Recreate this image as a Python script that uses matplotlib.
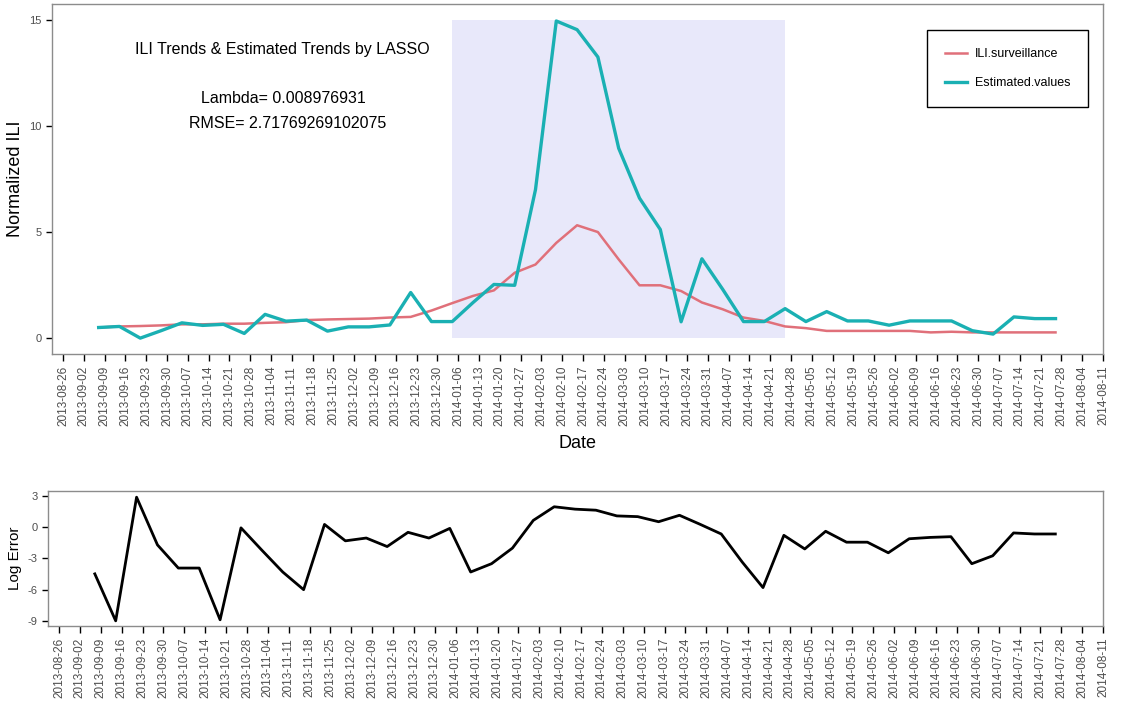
import numpy as np
import pandas as pd
import matplotlib
matplotlib.use('Agg')
import matplotlib.pyplot as plt
import matplotlib.dates as mdates

plt.rcParams['font.family'] = ['Liberation Sans', 'DejaVu Sans']
plt.rcParams['axes.unicode_minus'] = False

# weekly data, saturdays
dates = pd.date_range('2013-09-07', periods=47, freq='7D')
ili_surveillance = [0.50, 0.55, 0.57, 0.60, 0.65, 0.65, 0.68, 0.68, 0.72, 0.75,
                    0.85, 0.88, 0.90, 0.92, 0.97, 1.00, 1.30, 1.65, 1.99, 2.25,
                    3.08, 3.47, 4.49, 5.32, 5.00, 3.71, 2.49, 2.49, 2.22, 1.68,
                    1.36, 0.97, 0.81, 0.55, 0.47, 0.34, 0.34, 0.34, 0.34, 0.34,
                    0.27, 0.30, 0.27, 0.27, 0.27, 0.27, 0.27]
estimated_values = [0.50, 0.55, 0.00, 0.35, 0.72, 0.60, 0.65, 0.22, 1.12, 0.80,
                    0.85, 0.33, 0.53, 0.53, 0.62, 2.15, 0.78, 0.78, 1.68, 2.53,
                    2.49, 7.00, 14.95, 14.54, 13.25, 8.95, 6.60, 5.12, 0.77, 3.74,
                    2.30, 0.78, 0.78, 1.39, 0.78, 1.25, 0.81, 0.81, 0.61, 0.81,
                    0.81, 0.81, 0.35, 0.19, 1.00, 0.92, 0.92]
log_error = [-4.48, -9.0, 2.9, -1.69, -3.92, -3.92, -8.9, -0.05, -2.2, -4.3,
             -6.0, 0.28, -1.3, -1.03, -1.85, -0.48, -1.03, -0.1, -4.3, -3.5,
             -2.0, 0.67, 1.98, 1.75, 1.65, 1.1, 1.03, 0.54, 1.16, 0.28,
             -0.64, -3.33, -5.8, -0.77, -2.08, -0.38, -1.43, -1.43, -2.45, -1.1,
             -0.97, -0.9, -3.5, -2.74, -0.54, -0.64, -0.64]
shade_start, shade_end = 17, 33

tick_dates = pd.date_range('2013-08-26', '2014-08-11', freq='7D')
x_left = pd.Timestamp('2013-08-26') - pd.Timedelta(days=3.7)
x_right = pd.Timestamp('2014-08-11')

red = '#E0707A'
teal = '#1AB0B3'
frame_col = '#8c8c8c'
tick_txt = '#4d4d4d'

fig = plt.figure(figsize=(11.21, 7.03), dpi=100)
ax1 = fig.add_axes([0.0464, 0.4964, 0.9376, 0.4979])
ax2 = fig.add_axes([0.0428, 0.1095, 0.9412, 0.1921])


def style(ax):
    for s in ax.spines.values():
        s.set_color(frame_col)
        s.set_linewidth(1.0)
    ax.set_xlim(x_left, x_right)
    ax.set_xticks(tick_dates)
    ax.xaxis.set_major_formatter(mdates.DateFormatter('%Y-%m-%d'))
    ax.tick_params(axis='x', rotation=90, labelsize=8.5, labelcolor=tick_txt,
                   length=5, width=1, color='black')
    ax.tick_params(axis='y', labelsize=8, labelcolor=tick_txt,
                   length=4, width=1, color='black')
    ax.grid(False)


# top panel
ax1.fill_between([dates[shade_start], dates[shade_end]], 0, 15,
                 color='#E8E8FA', lw=0, zorder=0)
ax1.plot(dates, ili_surveillance, color=red, lw=1.8, label='ILI.surveillance')
ax1.plot(dates, estimated_values, color=teal, lw=2.4, label='Estimated.values')
style(ax1)
ax1.set_ylim(-0.75, 15.75)
ax1.set_yticks([0, 5, 10, 15])
ax1.set_ylabel('Normalized ILI', fontsize=13, labelpad=4)
ax1.set_xlabel('Date', fontsize=13, labelpad=6)
ax1.text(0.2192, 0.869, 'ILI Trends & Estimated Trends by LASSO',
         transform=ax1.transAxes, ha='center', va='center', fontsize=11.5)
ax1.text(0.2197, 0.729, 'Lambda= 0.008976931',
         transform=ax1.transAxes, ha='center', va='center', fontsize=11.5)
ax1.text(0.2242, 0.660, 'RMSE= 2.71769269102075',
         transform=ax1.transAxes, ha='center', va='center', fontsize=11.5)
leg = ax1.legend(loc='upper right', bbox_to_anchor=(0.986, 0.926),
                 borderaxespad=0, fontsize=9, frameon=True, fancybox=False,
                 framealpha=1, edgecolor='black', borderpad=1.45,
                 labelspacing=1.35, handlelength=1.8, handletextpad=0.6)
leg.get_frame().set_linewidth(1.0)

# bottom panel
ax2.plot(dates, log_error, color='black', lw=2.0)
style(ax2)
ax2.set_ylim(-9.5, 3.5)
ax2.set_yticks([3, 0, -3, -6, -9])
ax2.set_ylabel('Log Error', fontsize=11, labelpad=4)

fig.savefig('out.png', dpi=100)
